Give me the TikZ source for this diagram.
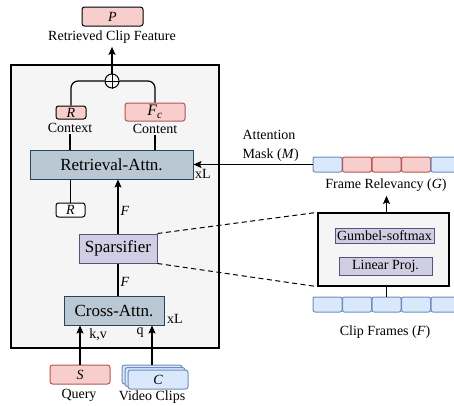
\documentclass[tikz,border=0pt]{standalone}
\usepackage{fontspec}
\setmainfont{Liberation Serif}
\usetikzlibrary{arrows.meta}
\tikzset{every picture/.style={line width=1pt}}

\definecolor{pinkfill}{HTML}{F8CECC}
\definecolor{pinkline}{HTML}{B85450}
\definecolor{bluefill}{HTML}{DAE8FC}
\definecolor{blueline}{HTML}{6C8EBF}
\definecolor{slatefill}{HTML}{BAC8D3}
\definecolor{slateline}{HTML}{23445D}
\definecolor{purplefill}{HTML}{D0CEE2}
\definecolor{purpleline}{HTML}{56517E}
\definecolor{panelfill}{HTML}{F5F5F5}

\tikzset{
  bigfont/.style={font=\fontsize{17}{19}\selectfont},
  smallfont/.style={font=\fontsize{14}{16}\selectfont},
  arr/.style={-{Stealth[length=8pt,width=7pt,inset=1.5pt]}, line width=1.2pt},
  link/.style={line width=1.2pt},
  attnbox/.style={draw=slateline, fill=slatefill, bigfont, inner sep=0pt, line width=1pt},
  sparsebox/.style={draw=purpleline, fill=purplefill, inner sep=0pt, line width=1pt},
  featbox/.style={draw, fill=pinkfill, rounded corners=2.5, inner sep=0pt, smallfont, line width=1pt},
  querybox/.style={draw=pinkline, fill=pinkfill, rounded corners=2.5, inner sep=0pt, smallfont, line width=1pt},
  clipbox/.style={draw=blueline, fill=bluefill, rounded corners=2.5, inner sep=0pt, smallfont, line width=1pt,
    minimum width=60, minimum height=19},
  cell/.style={rounded corners=2, inner sep=0pt, minimum width=29, minimum height=15, line width=1pt},
  caption/.style={smallfont, inner sep=1pt},
}

\begin{document}
\begin{tikzpicture}[x=1pt,y=1pt,yscale=-1,xscale=1]
\clip (0,0) rectangle (454,405);

%Shape: Rectangle [outer panel]
\draw[fill=panelfill, line width=1.1pt] (11,65) rectangle (219,348);

% Output feature
\node[featbox, minimum width=61, minimum height=19] (pout) at (112.5,16.5) {\textit{P}};
\node[caption] (pcap) at (112,37) {Retrieved Clip Feature};

% Sum
\node[draw, circle, minimum size=14, inner sep=0pt, fill=panelfill] (plus) at (112,81) {};
\draw (plus.north) -- (plus.south);
\draw (plus.west) -- (plus.east);
\draw[arr, shorten >=2pt] (plus.north) -- (pcap.south);

% Context / content
\node[featbox, minimum width=30, minimum height=13] (rctx) at (71,112.5) {\textit{R}};
\node[caption] (ctx) at (70,128) {Context};
\node[querybox, minimum width=60, minimum height=18, font=\fontsize{16}{18}\selectfont] (fc) at (155,112) {\textit{F}\textsubscript{\textit{c}}};
\node[caption] (cnt) at (155,129) {Content};
\draw[link, rounded corners=7] (plus.west) -- (rctx.north |- plus.west) -- (rctx.north);
\draw[link, rounded corners=7] (plus.east) -- (fc.north |- plus.east) -- (fc.north);

% Retrieval attention
\node[attnbox, minimum width=163, minimum height=29] (ret) at (111.5,164.5) {Retrieval-Attn.};
\node[caption] (retl) at (203,174) {xL};
\draw[link] (ctx.south) -- (ctx.south |- ret.north);
\draw[link] (cnt.south) -- (cnt.south |- ret.north);

\node[featbox, fill=white, minimum width=29, minimum height=14] (rout) at (70.5,210) {\textit{R}};
\draw[link] (rout.north |- ret.south) -- (rout.north);

% Sparsifier
\node[sparsebox, bigfont, minimum width=78, minimum height=29] (sparse) at (118,248.5) {Sparsifier};
\draw[arr] (sparse.north) -- (sparse.north |- ret.south);
\node[caption] (fup) at (125,211) {\textit{F}};

% Cross attention
\node[attnbox, minimum width=100, minimum height=29] (cross) at (114,310.5) {Cross-Attn.};
\node[caption] (crossl) at (175,319) {xL};
\draw[link] (sparse.south) -- (sparse.south |- cross.north);
\node[caption] (fdown) at (125,282) {\textit{F}};

% Inputs
\node[querybox, minimum width=60, minimum height=19] (query) at (80,374.5) {\textit{S}};
\node[caption] (qcap) at (79,395) {Query};
\node[clipbox] (clipc) at (152,374.5) {};
\node[clipbox] (clipb) at (155,377) {};
\node[clipbox] (clipa) at (158,379.5) {\textit{C}};
\node[caption] (ccap) at (152,397) {Video Clips};
\draw[arr] (query.north) -- (query.north |- cross.south);
\draw[arr] (clipc.north) -- (clipc.north |- cross.south);
\node[caption] (kv) at (98,335) {k,v};
\node[caption] (qlab) at (140,333) {q};

% Frame relevancy bar
\foreach \i/\c/\d in {1/bluefill/blueline,2/pinkfill/pinkline,3/pinkfill/pinkline,4/pinkfill/pinkline,5/bluefill/blueline}
  \node[cell, draw=\d, fill=\c] (g\i) at ({327.5+(\i-1)*29.5},164.5) {};
\node[caption] (grel) at (386,185) {Frame Relevancy (\textit{G})};
\node[smallfont, anchor=west, align=left, inner sep=0pt, font=\fontsize{14}{19}\selectfont] (mask) at (242,146) {Attention\\Mask (\textit{M})};
\draw[arr] (g1.west) -- (g1.west -| ret.east);

% Selector module
\node[draw, fill=panelfill, line width=1.3pt, minimum width=131, minimum height=73, inner sep=0pt] (sel) at (383.5,249.5) {};
\node[sparsebox, smallfont, minimum width=99, minimum height=15] (gumbel) at (384.5,235.5) {Gumbel-softmax};
\node[sparsebox, smallfont, minimum width=93, minimum height=18] (linear) at (385.5,266) {Linear Proj.};
\draw[arr, shorten >=3pt] (g3 |- sel.north) -- (g3 |- grel.south);

% Clip frames bar
\foreach \i in {1,...,5}
  \node[cell, draw=blueline, fill=bluefill] (f\i) at ({327.5+(\i-1)*29.5},304.5) {};
\node[caption] (fcap) at (385,332) {Clip Frames (\textit{F})};
\draw[link] (f3.north) -- (f3.north |- sel.south);

% Zoom lines
\draw[dashed, dash pattern=on 5pt off 3.5pt, line width=1pt] (sparse.north east) -- (sel.north west);
\draw[dashed, dash pattern=on 5pt off 3.5pt, line width=1pt] (sparse.south east) -- (sel.south west);
\end{tikzpicture}
\end{document}
